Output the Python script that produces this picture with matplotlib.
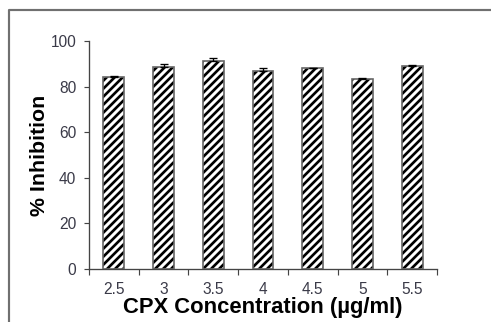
import matplotlib
matplotlib.use('Agg')
import matplotlib.pyplot as plt
from matplotlib.lines import Line2D
import numpy as np

concentrations = ['2.5', '3', '3.5', '4', '4.5', '5', '5.5']
inhibition = [84.1, 88.5, 91.2, 87.0, 88.0, 83.2, 89.0]
errors = [0.7, 1.4, 1.5, 1.3, 0.3, 0.7, 0.3]

plt.rcParams['font.family'] = ['Liberation Sans', 'DejaVu Sans']
plt.rcParams['hatch.linewidth'] = 1.6

dpi = 120
fig = plt.figure(figsize=(491 / dpi, 322 / dpi), dpi=dpi)
ax = fig.add_axes([89 / 491, 1 - 269 / 322, (437 - 89) / 491, (269 - 41) / 322])

x = np.arange(len(concentrations))
# hatch in black, outline in grey
ax.bar(x, inhibition, width=0.42, color='white', edgecolor='black', hatch='/////', linewidth=0, zorder=2)
ax.bar(x, inhibition, width=0.42, fill=False, edgecolor='#666666', linewidth=1.0, zorder=3)
ax.errorbar(x, inhibition, yerr=[np.zeros(len(errors)), errors], fmt='none',
            ecolor='black', elinewidth=0.8, capsize=2.4, capthick=0.8, zorder=4)

ax.set_xlim(-0.5, len(concentrations) - 0.5)
ax.set_ylim(0, 100)
ax.set_yticks([0, 20, 40, 60, 80, 100])
ax.set_xticks(x)
ax.set_xticklabels(concentrations)
ax.set_xticks(np.arange(len(concentrations) + 1) - 0.5, minor=True)
ax.tick_params(axis='x', which='major', length=0, pad=8, labelsize=9.3, labelcolor='#3a3a48')
ax.tick_params(axis='x', which='minor', length=3.5, width=0.7, color='#444444', direction='out')
ax.tick_params(axis='y', length=3.2, width=0.7, color='#444444', pad=4.5, labelsize=9.3, labelcolor='#3a3a48')

for s in ['top', 'right']:
    ax.spines[s].set_visible(False)
for s in ['left', 'bottom']:
    ax.spines[s].set_color('#444444')
    ax.spines[s].set_linewidth(0.8)

ax.set_ylabel('% Inhibition', fontsize=12.8, fontweight='bold', labelpad=1)
ax.set_xlabel('CPX Concentration (µg/ml)', fontsize=13.2, fontweight='bold', labelpad=0)

# outer frame (left and top edges)
fig.add_artist(Line2D([9 / 491, 9 / 491, 1], [0, 1 - 10 / 322, 1 - 10 / 322],
                      transform=fig.transFigure, color='#707070', linewidth=1.3))

fig.savefig('out.png', dpi=dpi)
